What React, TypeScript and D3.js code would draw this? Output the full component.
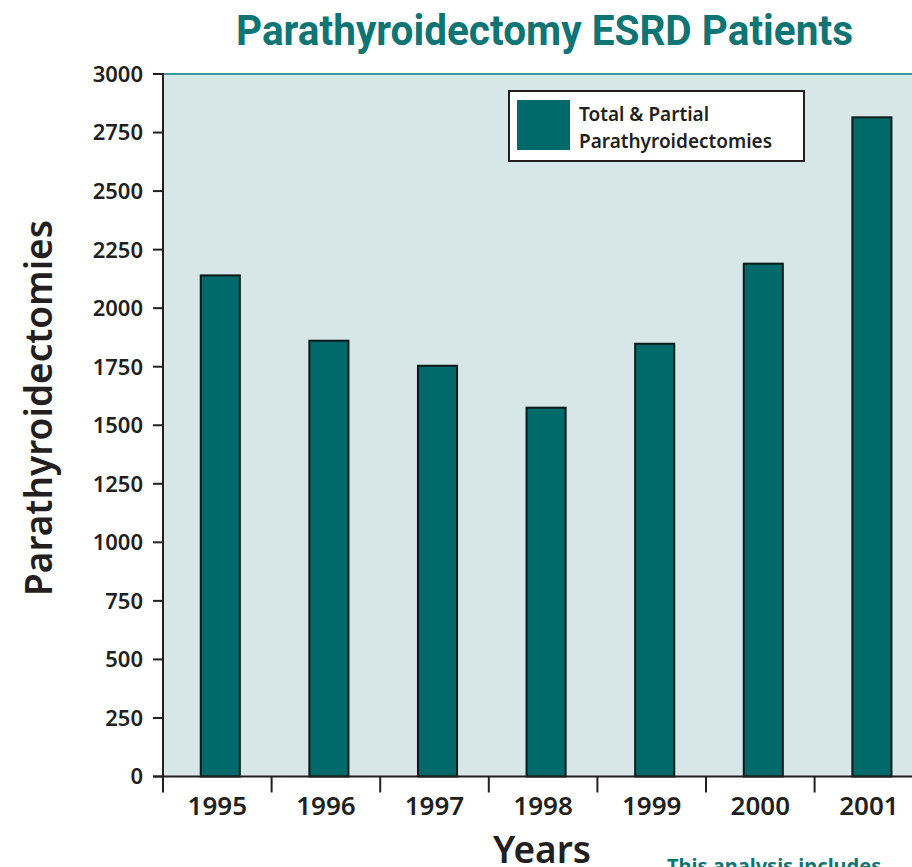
import * as d3 from "d3";

const years = ["1995", "1996", "1997", "1998", "1999", "2000", "2001"];
const parathyroidectomies = [2140, 1861, 1754, 1575, 1848, 2190, 2815];
const yTicks = [0, 250, 500, 750, 1000, 1250, 1500, 1750, 2000, 2250, 2500, 2750, 3000];

const W = 912;
const H = 867;

export default function App() {
  const left = 163;
  const bandW = 108.6;
  const top = 74;
  const bottom = 776.5;

  // ticks sit on category boundaries; bars are offset a bit right of centre
  const x = d3
    .scaleBand<string>()
    .domain(years)
    .range([left + 3, left + 3 + bandW * years.length])
    .paddingInner(0.64)
    .paddingOuter(0.32);
  const y = d3.scaleLinear().domain([0, 3000]).range([bottom, top]);

  const ink = "#231f20";
  const teal = "#006a6a";
  const font = "'Noto Sans', sans-serif";

  return (
    <svg
      width={W}
      height={H}
      style={{ position: "absolute", left: 0, top: 0 }}
      fontFamily={font}
    >
      <rect width={W} height={H} fill="#fff" />
      <text
        x={236}
        y={45}
        fontSize={42}
        fontWeight={700}
        fill="#0f7474"
        fontFamily="'Liberation Sans Narrow', 'Roboto', sans-serif"
        textLength={617}
        lengthAdjust="spacingAndGlyphs"
      >
        Parathyroidectomy ESRD Patients
      </text>

      {/* plot area */}
      <rect x={left} y={top} width={W - left + 20} height={bottom - top} fill="#d7e6e6" />
      <line x1={left} x2={W} y1={top} y2={top} stroke="#3d9a9a" strokeWidth={2} />

      {years.map((yr, i) => (
        <rect
          key={yr}
          x={x(yr)}
          y={y(parathyroidectomies[i])}
          width={x.bandwidth()}
          height={bottom - y(parathyroidectomies[i])}
          fill={teal}
          stroke="#0b1a1c"
          strokeWidth={2}
        />
      ))}

      {/* y axis */}
      <line x1={left} x2={left} y1={top - 1} y2={bottom} stroke={ink} strokeWidth={2} />
      {yTicks.map((t) => (
        <g key={t}>
          <line x1={left - 10} x2={left} y1={y(t)} y2={y(t)} stroke={ink} strokeWidth={2} />
          <text
            x={left - 20}
            y={y(t)}
            dy="0.36em"
            textAnchor="end"
            fontSize={22}
            fontWeight={600}
            fill={ink}
          >
            {t}
          </text>
        </g>
      ))}

      {/* x axis */}
      <line x1={left - 10} x2={W} y1={bottom} y2={bottom} stroke={ink} strokeWidth={2} />
      {years.map((yr, i) => (
        <g key={yr}>
          <line
            x1={left + i * bandW}
            x2={left + i * bandW}
            y1={bottom}
            y2={bottom + 16}
            stroke={ink}
            strokeWidth={2}
          />
          <text
            x={left + i * bandW + bandW / 2}
            y={815}
            textAnchor="middle"
            fontSize={26}
            fontWeight={600}
            fill={ink}
          >
            {yr}
          </text>
        </g>
      ))}

      {/* legend */}
      <rect x={509} y={91} width={295} height={70} fill="#fff" stroke={ink} strokeWidth={2} />
      <rect x={517} y={100} width={53} height={50} fill={teal} />
      <text x={579} y={121} fontSize={19} fontWeight={600} fill={ink}>
        Total &amp; Partial
      </text>
      <text x={579} y={148} fontSize={19} fontWeight={600} fill={ink}>
        Parathyroidectomies
      </text>

      {/* axis titles */}
      <text
        transform="translate(52,408) rotate(-90)"
        textAnchor="middle"
        fontSize={37}
        fontWeight={600}
        fill={ink}
      >
        Parathyroidectomies
      </text>
      <text x={542} y={863} textAnchor="middle" fontSize={37} fontWeight={600} fill={ink}>
        Years
      </text>

      <text x={667} y={873} fontSize={20} fontWeight={700} fill="#0f7474">
        This analysis includes
      </text>
    </svg>
  );
}
